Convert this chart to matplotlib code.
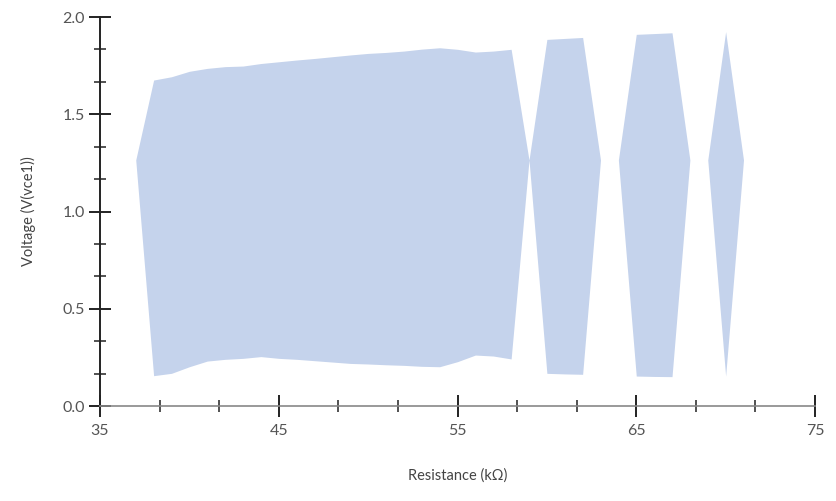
import numpy as np
import matplotlib
matplotlib.use("Agg")
import matplotlib.pyplot as plt
from matplotlib.ticker import FixedLocator

# resistance steps (kOhm) and the min / max of V(vce1) at each step
# steps with no spread sit on the centre value (zero width)
resistance = [37, 38, 39, 40, 41, 42, 43, 44, 45, 46, 47, 48, 49, 50, 51, 52, 53, 54,
              55, 56, 57, 58, 59, 60, 61, 62, 63, 64, 65, 66, 67, 68, 69, 70, 71]
v_upper = [1.265, 1.676, 1.693, 1.721, 1.736, 1.745, 1.748, 1.761, 1.770, 1.779, 1.787,
           1.796, 1.805, 1.813, 1.818, 1.825, 1.835, 1.842, 1.834, 1.820, 1.825, 1.834,
           1.265, 1.885, 1.890, 1.895, 1.265, 1.265, 1.911, 1.915, 1.919, 1.265, 1.265,
           1.925, 1.265]
v_lower = [1.265, 0.156, 0.168, 0.202, 0.231, 0.240, 0.245, 0.254, 0.245, 0.240, 0.233,
           0.226, 0.219, 0.216, 0.212, 0.209, 0.204, 0.202, 0.228, 0.262, 0.257, 0.242,
           1.265, 0.168, 0.165, 0.163, 1.265, 1.265, 0.154, 0.152, 0.151, 1.265, 1.265,
           0.154, 1.265]

x_ticks = [35, 45, 55, 65, 75]
y_ticks = [0.0, 0.5, 1.0, 1.5, 2.0]

plt.rcParams["font.family"] = ["Lato", "DejaVu Sans"]

fig = plt.figure(figsize=(8.36, 5.01), dpi=100)
ax = fig.add_axes([0.1196, 0.1896, 0.8553, 0.7764])

ax.fill_between(resistance, v_lower, v_upper, color="#c5d3ec", linewidth=0)

ax.set_xlim(35, 75)
ax.set_ylim(0, 2.0)
ax.set_xticks(x_ticks)
ax.set_yticks(y_ticks)
ax.set_yticklabels(["%.1f" % v for v in y_ticks])

# two minor ticks between each pair of major ticks
x_minor = [a + (b - a) * k / 3 for a, b in zip(x_ticks[:-1], x_ticks[1:]) for k in (1, 2)]
y_minor = [a + (b - a) * k / 3 for a, b in zip(y_ticks[:-1], y_ticks[1:]) for k in (1, 2)]
ax.xaxis.set_minor_locator(FixedLocator(x_minor))
ax.yaxis.set_minor_locator(FixedLocator(y_minor))

for s in ["top", "right"]:
    ax.spines[s].set_visible(False)
ax.spines["left"].set_color("#222222")
ax.spines["left"].set_linewidth(1.4)
ax.spines["bottom"].set_color("#888888")
ax.spines["bottom"].set_linewidth(1.2)

ax.tick_params(which="major", direction="inout", length=16, width=1.4, color="#222222",
               labelsize=11.5, labelcolor="#555555")
ax.tick_params(which="minor", direction="inout", length=8, width=1.1, color="#222222")
ax.tick_params(axis="x", which="major", pad=5)
ax.tick_params(axis="y", which="major", pad=3)

ax.set_xlabel("Resistance (kΩ)", fontsize=10.5, color="#444444", labelpad=22)
ax.set_ylabel("Voltage (V(vce1))", fontsize=10.5, color="#444444", labelpad=19)

fig.savefig("out.png", dpi=100)
